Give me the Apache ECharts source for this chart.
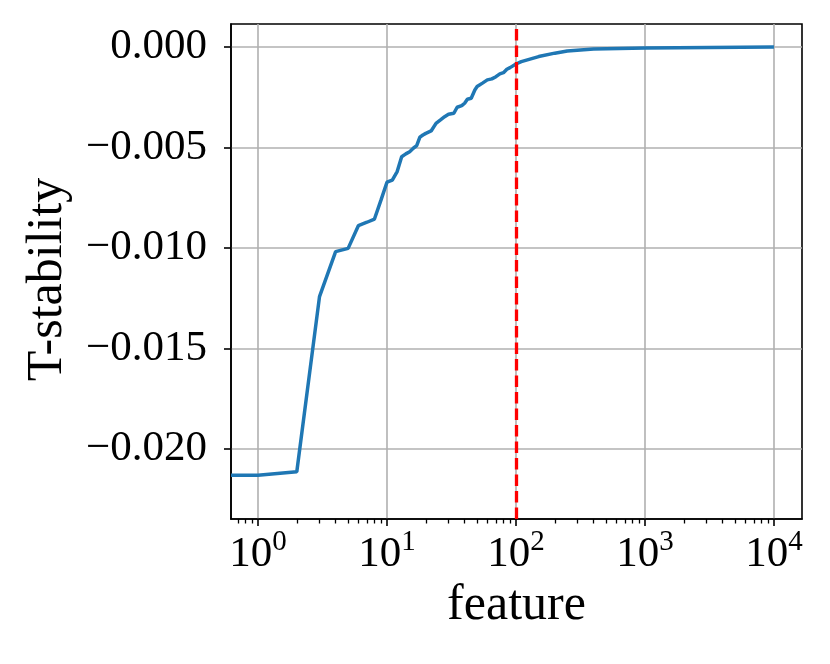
<!DOCTYPE html>
<html>
<head>
<meta charset="utf-8">
<script src="https://cdn.jsdelivr.net/npm/echarts@6/dist/echarts.min.js"></script>
<style>
html,body{margin:0;padding:0;background:#fff;}
#chart{width:830px;height:664px;}
</style>
</head>
<body>
<div id="chart"></div>
<script>
// x = 0 is clipped on the log axis; it is shown at the axis' left limit
const xLeftLimit = 0.618;
const xRightLimit = 16500;
const yMin = -0.02348;
const yMax = 0.00114;

const featureCount = [xLeftLimit, 1, 2, 3, 4, 5, 6, 7, 8, 9, 10, 11, 12, 13, 14, 15, 16, 17, 18, 19, 20,
  22, 24, 26, 28, 30, 33, 35, 38, 40, 42, 45, 48, 50, 55, 60, 65, 70, 75, 80, 85, 90, 100,
  110, 150, 200, 250, 400, 1000, 10000];
const tStability = [-0.0213, -0.0213, -0.02113, -0.01242, -0.01018, -0.01002, -0.00889, -0.00872, -0.00856, -0.00761, -0.00673,
  -0.00662, -0.0062, -0.00546, -0.00532, -0.00521, -0.00504, -0.00491, -0.00449, -0.00438, -0.0043,
  -0.00418, -0.0038, -0.00363, -0.00347, -0.00335, -0.0033, -0.003, -0.00292, -0.0028, -0.0026, -0.00255, -0.00214, -0.00197,
  -0.0018, -0.00164, -0.00159, -0.00148, -0.00134, -0.00128, -0.00111, -0.00103, -0.00085,
  -0.00073, -0.00048, -0.00031, -0.0002, -0.0001, -0.00005, 0];
const thresholdX = 100;

const xMajorTicks = [1, 10, 100, 1000, 10000];
const xMinorTicks = [0.7, 0.8, 0.9, 2, 3, 4, 5, 6, 7, 8, 9, 20, 30, 40, 50, 60, 70, 80, 90,
  200, 300, 400, 500, 600, 700, 800, 900, 2000, 3000, 4000, 5000, 6000, 7000, 8000, 9000];
const yTicks = [-0.020, -0.015, -0.010, -0.005, 0.000];

const FONT = '"Liberation Serif", "DejaVu Serif", serif';

const chart = echarts.init(document.getElementById('chart'), null, {renderer: 'canvas'});
chart.setOption({
  animation: false,
  backgroundColor: '#fff',
  grid: {
    left: 231, right: 28, top: 24, bottom: 145,
    show: true, borderColor: '#000', borderWidth: 1.6, containLabel: false
  },
  xAxis: [{
    type: 'log', logBase: 10, min: xLeftLimit, max: xRightLimit,
    position: 'bottom',
    name: 'feature', nameLocation: 'middle', nameGap: 62,
    nameTextStyle: {fontFamily: FONT, fontSize: 50, color: '#000'},
    axisLine: {show: true, onZero: false, lineStyle: {color: '#000', width: 1.6}},
    axisTick: {show: true, customValues: xMajorTicks, length: 7, lineStyle: {color: '#000', width: 1.6}},
    axisLabel: {
      customValues: xMajorTicks, margin: 9,
      formatter: function (v) { return '{b|10}{s|' + Math.round(Math.log10(v)) + '}'; },
      rich: {
        b: {fontFamily: FONT, fontSize: 43, color: '#000', verticalAlign: 'bottom', lineHeight: 48},
        s: {fontFamily: FONT, fontSize: 29, color: '#000', verticalAlign: 'top', lineHeight: 22}
      }
    },
    splitLine: {show: true, lineStyle: {color: '#b0b0b0', width: 1.6}},
    minorTick: {show: false}
  }, {
    type: 'log', logBase: 10, min: xLeftLimit, max: xRightLimit,
    position: 'bottom', gridIndex: 0,
    axisLine: {show: false, onZero: false},
    axisTick: {show: true, customValues: xMinorTicks, length: 4.5, lineStyle: {color: '#000', width: 1.3}},
    axisLabel: {show: false},
    splitLine: {show: false}
  }],
  yAxis: {
    type: 'value', min: yMin, max: yMax,
    name: 'T-stability', nameLocation: 'middle', nameGap: 158,
    nameTextStyle: {fontFamily: FONT, fontSize: 50, color: '#000', padding: [0, 16, 0, 0]},
    axisLine: {show: true, onZero: false, lineStyle: {color: '#000', width: 1.6}},
    axisTick: {show: true, customValues: yTicks, length: 7, lineStyle: {color: '#000', width: 1.6}},
    axisLabel: {
      customValues: yTicks, margin: 24,
      fontFamily: FONT, fontSize: 43, color: '#000',
      formatter: function (v) { return v.toFixed(3).replace('-', '\u2212'); }
    },
    splitLine: {show: true, lineStyle: {color: '#b0b0b0', width: 1.6}}
  },
  series: [{
    type: 'line',
    xAxisIndex: 0,
    data: featureCount.map((x, i) => [x, tStability[i]]),
    showSymbol: false,
    lineStyle: {color: '#1f77b4', width: 3.5},
    itemStyle: {color: '#1f77b4'},
    z: 3,
    markLine: {
      silent: true, symbol: ['none', 'none'],
      label: {show: false},
      lineStyle: {color: '#ff0000', type: [11.5, 5], width: 3.3},
      data: [{xAxis: thresholdX}]
    }
  }]
});
</script>
</body>
</html>
